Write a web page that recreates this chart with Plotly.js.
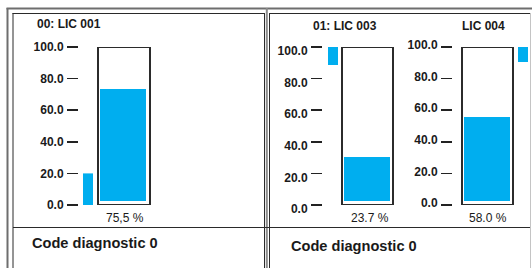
<!DOCTYPE html>
<html>
<head>
<meta charset="utf-8">
<script src="https://cdn.plot.ly/plotly-3.0.1.min.js"></script>
<style>
  html, body { margin: 0; padding: 0; background: #ffffff; }
  #chart { width: 532px; height: 268px; }
</style>
</head>
<body>
<div id="chart"></div>
<script>
// ---- data ----
const gaugeTitles   = ['00: LIC 001', '01: LIC 003', 'LIC 004'];
const levelTop      = [73.4, 30.4, 55.7];     // drawn top of the level fill (axis units)
const levelBottom   = [2.5, 2.5, 2.5];        // fill starts slightly above 0
const levelLabels   = ['75,5 %', '23.7 %', '58.0 %'];
const markerLow     = [0, 88.6, 90.5];        // small side indicator bars
const markerHigh    = [20, 100, 100];
const scaleMin      = 0;
const scaleMax      = 100;
const tickValues    = [0, 20, 40, 60, 80, 100];
const tickLabels    = ['0.0', '20.0', '40.0', '60.0', '80.0', '100.0'];
const footerTexts   = ['Code diagnostic 0', 'Code diagnostic 0'];

// ---- layout helpers (pixel geometry of the display) ----
const W = 532, H = 268;
const fx = x => x / W;
const fy = y => 1 - y / H;

const FILL = '#00AEEF';
const INK = '#1a1a1a';
const FONT = 'Liberation Sans, Arial, sans-serif';

// per gauge placement
const G = [
  { d0: 79,  d1: 153, ind: 88,  box: 124,   boxW: 52, fill: 123, lab: 124.5, shift: 0,
    title: { x: 35,  y: 24, anchor: 'left' } },
  { d0: 323, d1: 396, ind: 333, box: 367.5, boxW: 51, fill: 367, lab: 370,   shift: 4,
    title: { x: 345, y: 26, anchor: 'center' } },
  { d0: 453, d1: 530, ind: 523, box: 487.5, boxW: 51, fill: 487, lab: 488,   shift: -2,
    title: { x: 483, y: 26, anchor: 'center' } }
];

const yTop = 47, yBot = 205;

const traces = [];
const layout = {
  width: W, height: H,
  margin: { l: 0, r: 0, t: 0, b: 0, pad: 0 },
  paper_bgcolor: '#ffffff', plot_bgcolor: 'rgba(0,0,0,0)',
  showlegend: false, barmode: 'overlay',
  font: { family: FONT, color: INK },
  annotations: [], shapes: []
};

G.forEach((g, i) => {
  const xa = i === 0 ? 'x' : 'x' + (i + 1);
  const ya = i === 0 ? 'y' : 'y' + (i + 1);
  const xk = i === 0 ? 'xaxis' : 'xaxis' + (i + 1);
  const yk = i === 0 ? 'yaxis' : 'yaxis' + (i + 1);

  layout[xk] = {
    domain: [fx(g.d0), fx(g.d1)], range: [g.d0, g.d1], anchor: ya,
    visible: false, fixedrange: true
  };
  layout[yk] = {
    domain: [fy(yBot), fy(yTop)], range: [scaleMin, scaleMax], anchor: xa,
    showgrid: false, zeroline: false, showline: false,
    ticks: 'outside', ticklen: 11, tickwidth: 1.5, tickcolor: '#222',
    tickmode: 'array', tickvals: tickValues, ticktext: tickLabels,
    tickfont: { family: FONT, size: 12, color: INK, weight: 'bold' },
    ticklabelshift: g.shift, ticklabelstandoff: 1,
    fixedrange: true
  };

  // side indicator
  traces.push({
    type: 'bar', xaxis: xa, yaxis: ya, x: [g.ind], width: [10],
    base: [markerLow[i]], y: [markerHigh[i] - markerLow[i]],
    marker: { color: FILL, line: { width: 0 } }, cliponaxis: false, hoverinfo: 'skip'
  });
  // level fill
  traces.push({
    type: 'bar', xaxis: xa, yaxis: ya, x: [g.fill], width: [46],
    base: [levelBottom[i]], y: [levelTop[i] - levelBottom[i]],
    marker: { color: FILL, line: { width: 0 } }, cliponaxis: false, hoverinfo: 'skip'
  });
  // tank outline (full scale)
  traces.push({
    type: 'bar', xaxis: xa, yaxis: ya, x: [g.box], width: [g.boxW],
    base: [scaleMin], y: [scaleMax - scaleMin],
    marker: { color: 'rgba(0,0,0,0)', line: { width: 2, color: '#2b2b2b' } },
    cliponaxis: false, hoverinfo: 'skip'
  });

  layout.annotations.push({
    xref: 'paper', yref: 'paper', x: fx(g.title.x), y: fy(g.title.y),
    xanchor: g.title.anchor, yanchor: 'middle', showarrow: false,
    text: gaugeTitles[i], font: { family: FONT, size: 12, color: INK, weight: 'bold' }
  });
  layout.annotations.push({
    xref: 'paper', yref: 'paper', x: fx(g.lab), y: fy(218),
    xanchor: 'center', yanchor: 'middle', showarrow: false,
    text: levelLabels[i], font: { family: FONT, size: 12, color: INK }
  });
});

// footers
layout.annotations.push({
  xref: 'paper', yref: 'paper', x: fx(30), y: fy(243), xanchor: 'left', yanchor: 'middle',
  showarrow: false, text: footerTexts[0], font: { family: FONT, size: 14.6, color: INK, weight: 'bold' }
});
layout.annotations.push({
  xref: 'paper', yref: 'paper', x: fx(289), y: fy(245.5), xanchor: 'left', yanchor: 'middle',
  showarrow: false, text: footerTexts[1], font: { family: FONT, size: 14.6, color: INK, weight: 'bold' }
});

// frame lines
function hline(y, x0, x1, color, w) {
  layout.shapes.push({ type: 'line', xref: 'paper', yref: 'paper', layer: 'below',
    x0: fx(x0), x1: fx(x1), y0: fy(y), y1: fy(y), line: { color: color, width: w } });
}
function vline(x, y0, y1, color, w) {
  layout.shapes.push({ type: 'line', xref: 'paper', yref: 'paper', layer: 'below',
    x0: fx(x), x1: fx(x), y0: fy(y0), y1: fy(y1), line: { color: color, width: w } });
}
const GRAY = '#6e6e6e', DARK = '#2a2a2a';
hline(8.5, 6.5, 532, GRAY, 2);
vline(7.5, 8, 268, GRAY, 2);
hline(13.5, 12.5, 264.5, DARK, 1);
vline(13, 13, 268, DARK, 1);
vline(264.5, 13, 268, DARK, 1);
vline(266.8, 8, 268, '#8a8a8a', 2);
vline(269.5, 13, 268, DARK, 1);
hline(13.5, 269, 531, DARK, 1);
vline(530.5, 13, 268, '#c4c4c4', 1);
hline(227.5, 13, 530, DARK, 1);

Plotly.newPlot('chart', traces, layout, { staticPlot: true, displayModeBar: false });
</script>
</body>
</html>
